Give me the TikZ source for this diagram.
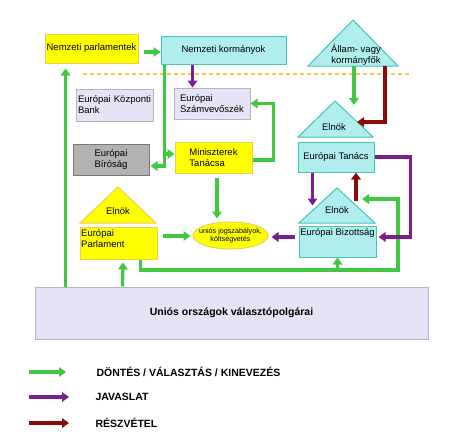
\documentclass[tikz,border=0pt]{standalone}
\usepackage{fontspec}
\setmainfont{Liberation Sans}
\usetikzlibrary{arrows.meta,calc,shapes.geometric}
\definecolor{ggreen}{RGB}{64,200,64}
\definecolor{gpurple}{RGB}{122,30,140}
\definecolor{gdred}{RGB}{140,10,10}
\definecolor{yfill}{RGB}{255,255,0}
\definecolor{ydraw}{RGB}{232,208,80}
\definecolor{cfill}{RGB}{176,238,238}
\definecolor{cdraw}{RGB}{70,196,182}
\definecolor{lfill}{RGB}{228,228,246}
\definecolor{ldraw}{RGB}{180,180,188}
\definecolor{gfill}{RGB}{178,178,178}
\definecolor{gdraw}{RGB}{120,120,120}
\definecolor{dashc}{RGB}{245,200,74}
\begin{document}
\begin{tikzpicture}[x=1pt,y=-1pt,
  txt/.style={font=\fontsize{9.5}{11}\selectfont},
  box/.style={rectangle,line width=1pt,inner sep=1.5pt,txt,align=left},
  ybox/.style={box,fill=yfill,draw=ydraw},
  cbox/.style={box,fill=cfill,draw=cdraw},
  lbox/.style={box,fill=lfill,draw=ldraw},
  gbox/.style={box,fill=gfill,draw=gdraw},
  ytri/.style={fill=yfill,draw=ydraw,line width=1pt},
  ctri/.style={fill=cfill,draw=cdraw,line width=1pt},
  ga/.style={draw=ggreen,line width=3.2pt,-{Triangle[length=7pt,width=9.5pt]}},
  pa/.style={draw=gpurple,line width=3.2pt,-{Triangle[length=7pt,width=9.5pt]}},
  ra/.style={draw=gdred,line width=3.2pt,-{Triangle[length=7pt,width=9.5pt]}},
  leg/.style={font=\fontsize{10.5}{12}\selectfont\bfseries,anchor=west}]
\useasboundingbox (0,0) rectangle (474,447);

% dashed line
\draw[dashc,line width=1.2pt,dash pattern=on 4pt off 3pt] (83,74) -- (412,74);

% triangles
\draw[ytri] (118,187) -- (156,223) -- (80,223) -- cycle;
\draw[ctri] (353,20) -- (398,66) -- (308,66) -- cycle;
\draw[ctri] (335,101) -- (373,137) -- (298,137) -- cycle;
\draw[ctri] (337,188) -- (375,223) -- (299,223) -- cycle;
\node[txt] (el1) at (118,211) {Elnök};
\node[txt,align=center] (allam) at (356,55) {Állam- vagy\\kormányfők};
\node[txt] (el2) at (334,127) {Elnök};
\node[txt] (el3) at (337,210) {Elnök};

% boxes
\node[ybox,minimum width=93pt,minimum height=29pt] (np) at (91.5,48.5) {Nemzeti parlamentek};
\node[cbox,minimum width=125pt,minimum height=28pt] (nk) at (223.5,50) {Nemzeti kormányok};
\node[lbox,minimum width=77pt,minimum height=32pt,text width=73pt] (ekb) at (114.5,105) {Európai Központi\\Bank};
\node[lbox,minimum width=76pt,minimum height=31pt,text width=64pt] (esz) at (212,103.5) {Európai\\Számvevőszék};
\node[ybox,minimum width=77pt,minimum height=31pt] (mt) at (213.5,157.5) {Miniszterek\\Tanácsa};
\node[gbox,minimum width=76pt,minimum height=31pt] (eb) at (111,159.5) {Európai\\Bíróság};
\node[ybox,minimum width=77pt,minimum height=32pt] (ep) at (118.5,243) {};
\node[txt,anchor=north west,align=left,inner sep=0pt] (ept) at (81,229) {Európai\\Parlament};
\node[ellipse,fill=yfill,draw=ydraw,line width=1pt,minimum width=75pt,minimum height=27pt,inner xsep=-12pt,inner ysep=-4pt,align=center,font=\fontsize{7.2}{8.5}\selectfont] (ell) at (230.5,235.5) {uniós jogszabályok,\\költségvetés};
\node[cbox,minimum width=76pt,minimum height=30pt] (et) at (336,157) {Európai Tanács};
\node[cbox,minimum width=77pt,minimum height=31pt] (ebz) at (337.5,241.5) {};
\node[txt,inner sep=0pt] (ebzt) at (337.5,233) {Európai Bizottság};
\node[lbox,minimum width=393pt,minimum height=52pt,font=\fontsize{10.5}{12}\selectfont\bfseries,align=center] (cit) at (231.5,313) {Uniós országok választópolgárai};

% connectors
\coordinate (gr) at (398,270);
\draw[ga] ($(np.east)+(5,3.5)$) -- ($(nk.west)+(0,2)$);
\draw[ga] ($(nk.south west)+(4,0)$) |- ($(eb.east)+(1,6.5)$);
\draw[ga] ($(mt.west)+(-10,-3.5)$) -- ($(mt.west)+(0,-3.5)$);
\draw[pa] ($(nk.south west)+(32,0)$) -- ($(nk.south west)+(32,23)$);
\draw[ga] ($(mt.east)+(0,2.5)$) -| ($(esz.east)+(23,0)$) -- (esz.east);
\draw[ga] ($(mt.south)+(3.5,4)$) -- ($(mt.south)+(3.5,45)$);
\draw[ga] ($(ep.east)+(5,-7)$) -- ($(ep.east)+(33,-7)$);
\draw[pa] ($(ebz.west)+(-4,-4.5)$) -- ($(ebz.west)+(-27,-4.5)$);
\draw[ga] ($(ep.south east)+(-17,0)$) |- (gr) |- ($(el3)+(25,-11)$);
\draw[ga] (ebz.south |- gr) -- (ebz.south);
\draw[ga] ($(cit.north west)+(88,0)$) -- ($(ep.south)+(4.5,3)$);
\draw[ga] ($(cit.north west)+(31,0)$) -- ($(np.south west)+(21,5)$);
\draw[ga] ($(allam)+(-2,11)$) -- ($(allam)+(-2,50)$);
\draw[ra] ($(allam)+(29,11)$) |- ($(el2)+(23,-5)$);
\draw[pa] (et.east) -- ++(36,0) |- ($(ebz.east)+(2,-4.5)$);
\draw[pa] ($(et.south west)+(15,0)$) -- ++(0,33);
\draw[ra] ($(el3)+(19,-9)$) -- ($(et.south)+(20,0)$);

% legend
\coordinate (l1) at (29,372);
\coordinate (l2) at (29,397);
\coordinate (l3) at (29,423);
\node[leg] (t1) at (93,372) {DÖNTÉS / VÁLASZTÁS / KINEVEZÉS};
\node[leg] (t2) at (92,397) {JAVASLAT};
\node[leg] (t3) at (92,423) {RÉSZVÉTEL};
\draw[ga] (l1) -- ++(37,0);
\draw[pa] (l2) -- ++(40,0);
\draw[ra] (l3) -- ++(40,0);
\end{tikzpicture}
\end{document}
